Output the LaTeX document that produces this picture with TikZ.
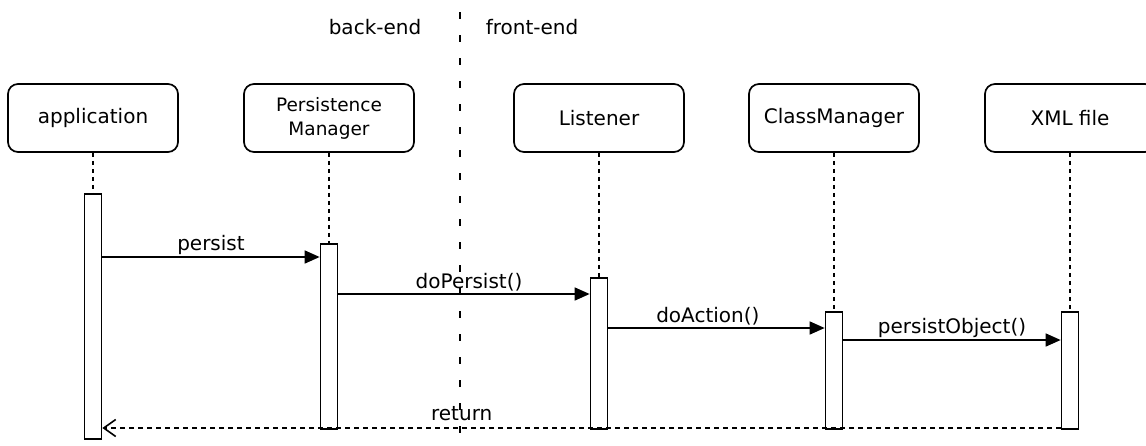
\documentclass[tikz,border=0pt]{standalone}
\usepackage{fontspec}
\setmainfont{DejaVu Sans}
\usetikzlibrary{arrows.meta,positioning}

\begin{document}
\begin{tikzpicture}[x=1pt, y=-1pt, font=\fontsize{20}{23}\selectfont]
\tikzstyle{actor} = [draw, line width=1.7pt, fill=white, rounded corners=10pt, minimum width=170pt, minimum height=68pt, align=center]
\tikzstyle{actbox} = [draw, line width=1.7pt, fill=white, minimum width=17pt, inner sep=0pt]
\tikzstyle{lifeline} = [line width=1.3pt, dash pattern=on 4pt off 4pt]
\tikzstyle{msg} = [line width=1.6pt, -{Triangle[length=15pt,width=13pt]}]
\tikzstyle{reply} = [line width=1.6pt, dash pattern=on 5pt off 4pt, -{Straight Barb[length=12pt,width=17pt,line width=1.6pt]}]

\useasboundingbox (0,0) rectangle (1146,445);

% separator
\coordinate (septop) at (460,12);
\coordinate (sepbot) at (460,445);
\draw [line width=1.9pt, dash pattern=on 7pt off 16pt] (septop) -- (sepbot);
\node (back) at (375,27) {back-end};
\node (front) at (532,27) {front-end};

% heads
\node [actor] (app) at (93,118) {application};
\node [actor, font=\fontsize{18.5}{24}\selectfont] (pm) [right of=app, node distance=236pt] {Persistence\\Manager};
\node [actor] (lis) [right of=pm, node distance=270pt] {Listener};
\node [actor] (cm) [right of=lis, node distance=235pt] {ClassManager};
\node [actor] (xml) [right of=cm, node distance=236pt] {XML file};

% activations
\node [actbox, minimum height=245pt] (appact) [below of=app, node distance=75pt, anchor=north] {};
\node [actbox, minimum height=185pt] (pmact) [below of=pm, node distance=125pt, anchor=north] {};
\node [actbox, minimum height=151pt] (lisact) [below of=lis, node distance=159pt, anchor=north] {};
\node [actbox, minimum height=117pt] (cmact) [below of=cm, node distance=193pt, anchor=north] {};
\node [actbox, minimum height=117pt] (xmlact) [below of=xml, node distance=193pt, anchor=north] {};

\draw [lifeline] (app) -- (appact);
\draw [lifeline] (pm) -- (pmact);
\draw [lifeline] (lis) -- (lisact);
\draw [lifeline] (cm) -- (cmact);
\draw [lifeline] (xml) -- (xmlact);

% messages
\coordinate (m1) at (0,257);
\coordinate (m2) at (0,294);
\coordinate (m3) at (0,328);
\coordinate (m4) at (0,340);
\coordinate (m5) at (0,428);

\draw [msg] (appact.east |- m1) -- node [above, inner sep=2pt] {persist} (pmact.west |- m1);
\draw [msg] (pmact.east |- m2) -- node [above, inner sep=2pt, pos=0.52] {doPersist()} (lisact.west |- m2);
\draw [msg] (lisact.east |- m3) -- node [above, inner sep=2pt, pos=0.46] {doAction()} (cmact.west |- m3);
\draw [msg] (cmact.east |- m4) -- node [above, inner sep=2pt] {persistObject()} (xmlact.west |- m4);
\draw [reply] (xmlact.west |- m5) -- node [above, inner sep=6pt, pos=0.625] {return} (appact.east |- m5);
\end{tikzpicture}
\end{document}
